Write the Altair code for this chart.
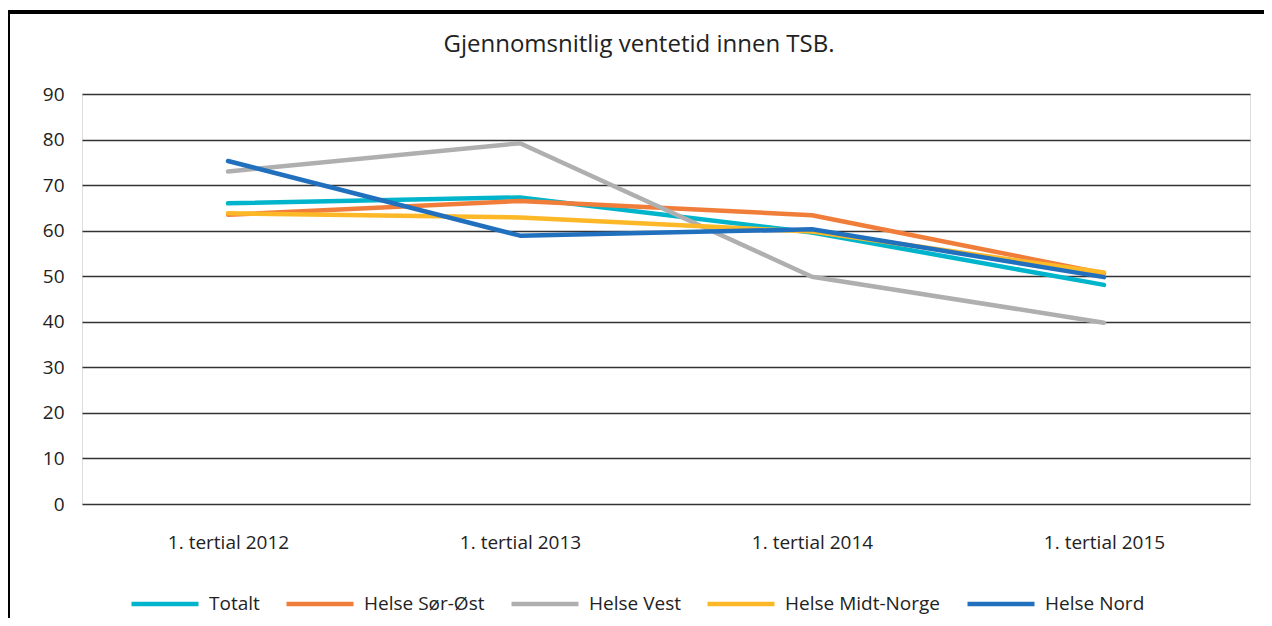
import altair as alt
import pandas as pd

periods = ["1. tertial 2012", "1. tertial 2013", "1. tertial 2014", "1. tertial 2015"]
series = ["Totalt", "Helse Sør-Øst", "Helse Vest", "Helse Midt-Norge", "Helse Nord"]
totalt = [66.0, 67.3, 59.6, 48.1]
sor_ost = [63.5, 66.5, 63.4, 50.6]
vest = [73.0, 79.2, 49.9, 39.8]
midt_norge = [63.8, 62.9, 59.8, 50.8]
nord = [75.3, 58.9, 60.3, 49.8]
colors = ["#00B5CB", "#F07E3A", "#AFAFAF", "#FDB827", "#2170BE"]
y_ticks = [0, 10, 20, 30, 40, 50, 60, 70, 80, 90]

values = [totalt, sor_ost, vest, midt_norge, nord]
rows = []
for s_i, (name, vals) in enumerate(zip(series, values)):
    for p, v in zip(periods, vals):
        rows.append({"periode": p, "serie": name, "verdi": v, "ordre": s_i})
df = pd.DataFrame(rows)

FONT = "Open Sans"
W, H = 1168, 410

lines = alt.Chart(df).mark_line(strokeWidth=4.5, strokeCap="round", strokeJoin="round").encode(
    x=alt.X("periode:N", sort=periods, scale=alt.Scale(padding=0.5),
            axis=alt.Axis(title=None, labelAngle=0, domain=False, ticks=False, grid=False,
                          labelPadding=29, labelFontSize=19, labelFont=FONT, labelColor="#222222")),
    y=alt.Y("verdi:Q", scale=alt.Scale(domain=[0, 90], nice=False),
            axis=alt.Axis(title=None, values=y_ticks, domain=False, ticks=False, grid=True,
                          gridColor="#333333", gridWidth=1.5, labelPadding=18, labelFontSize=19,
                          labelFont=FONT, labelColor="#222222")),
    color=alt.Color("serie:N", sort=series,
                    scale=alt.Scale(domain=series, range=colors),
                    legend=alt.Legend(title=None, orient="none", direction="horizontal",
                                      legendX=47, legendY=474, padding=0,
                                      symbolType="stroke", symbolSize=4489, symbolStrokeWidth=4.5,
                                      labelFontSize=19, labelFont=FONT, labelColor="#222222",
                                      columnPadding=17, labelOffset=8)),
    order=alt.Order("ordre:Q"),
)

frame = alt.Chart(df).mark_rect(filled=False, stroke="black", strokeWidth=2.5).encode(
    x=alt.value(-74), x2=alt.value(1300), y=alt.value(-82), y2=alt.value(800)
)

chart = alt.layer(frame, lines).properties(
    width=W, height=H,
    title=alt.TitleParams("Gjennomsnitlig ventetid innen TSB.", anchor="middle", frame="group",
                          dx=-27, offset=-46, fontSize=24, font=FONT, fontWeight="normal",
                          color="#222222"),
    autosize=alt.AutoSizeParams(type="none"),
    padding={"left": 74, "top": 86, "right": 14, "bottom": 114},
).configure_view(stroke=None).configure(background="white")

chart.save("out.html", embed_options={"renderer": "svg", "actions": False})
